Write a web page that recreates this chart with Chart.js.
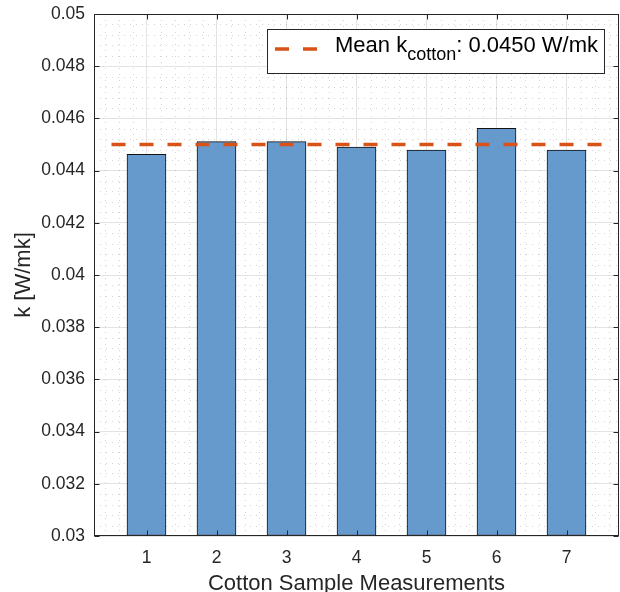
<!DOCTYPE html>
<html>
<head>
<meta charset="utf-8">
<script src="https://cdn.jsdelivr.net/npm/chart.js@4.4.0/dist/chart.umd.min.js"></script>
<style>
html, body { margin: 0; padding: 0; background: #fff; }
canvas { display: block; }
</style>
</head>
<body>
<canvas id="kChart" width="620" height="592"></canvas>
<script>
// data
const samples = [1, 2, 3, 4, 5, 6, 7]
const kValues = [0.04462, 0.04511, 0.04511, 0.0449, 0.04479, 0.04562, 0.04479]
const meanK = 0.045
const meanSpan = [0.5, 7.5]
const xTicks = [1, 2, 3, 4, 5, 6, 7]
const yTicks = [0.03, 0.032, 0.034, 0.036, 0.038, 0.04, 0.042, 0.044, 0.046, 0.048, 0.05]
const xLimits = [0.25, 7.75]
const yLimits = [0.03, 0.05]

const FONT = "'Liberation Sans', Arial, Helvetica, sans-serif"
const INK = '#262626'

// MATLAB style minor grid (dotted), under the bars
const minorGrid = {
	id: 'minorGrid',
	beforeDatasetsDraw(chart) {
		const { ctx, chartArea: a, scales: { x, y } } = chart
		ctx.save()
		ctx.strokeStyle = 'rgba(0,0,0,0.17)'
		ctx.lineWidth = 1
		ctx.setLineDash([1, 5])
		for (let i = Math.ceil(xLimits[0] / 0.2); i <= Math.floor(xLimits[1] / 0.2); i++) {
			if (i % 5 === 0) continue
			const px = Math.round(x.getPixelForValue(i * 0.2)) + 0.5
			ctx.beginPath()
			ctx.moveTo(px, a.top)
			ctx.lineTo(px, a.bottom)
			ctx.stroke()
		}
		for (let i = Math.round(yLimits[0] / 0.0004); i <= Math.round(yLimits[1] / 0.0004); i++) {
			if (i % 5 === 0) continue
			const py = Math.round(y.getPixelForValue(i * 0.0004)) + 0.5
			ctx.beginPath()
			ctx.moveTo(a.left, py)
			ctx.lineTo(a.right, py)
			ctx.stroke()
		}
		ctx.restore()
	},
}

// box round the axes with inward ticks, drawn over the bars
const axesBox = {
	id: 'axesBox',
	afterDatasetsDraw(chart) {
		const { ctx, chartArea: a, scales: { x, y } } = chart
		const L = Math.round(a.left) + 0.5
		const R = Math.round(a.right) - 0.5
		const T = Math.round(a.top) + 0.5
		const B = Math.round(a.bottom) - 0.5
		ctx.save()
		ctx.strokeStyle = INK
		ctx.lineWidth = 1
		ctx.strokeRect(L, T, R - L, B - T)
		ctx.beginPath()
		xTicks.forEach(v => {
			const px = Math.round(x.getPixelForValue(v)) + 0.5
			ctx.moveTo(px, B); ctx.lineTo(px, B - 5)
			ctx.moveTo(px, T); ctx.lineTo(px, T + 5)
		})
		yTicks.forEach(v => {
			const py = Math.round(y.getPixelForValue(v)) + 0.5
			ctx.moveTo(L, py); ctx.lineTo(L + 5, py)
			ctx.moveTo(R, py); ctx.lineTo(R - 5, py)
		})
		ctx.stroke()
		ctx.restore()
	},
}

// legend with subscript text
const meanLegend = {
	id: 'meanLegend',
	afterDraw(chart) {
		const { ctx } = chart
		const bx = 267.5, by = 29.5, bw = 337, bh = 44
		ctx.save()
		ctx.fillStyle = '#fff'
		ctx.fillRect(bx, by, bw, bh)
		ctx.strokeStyle = INK
		ctx.lineWidth = 1
		ctx.strokeRect(bx, by, bw, bh)
		ctx.strokeStyle = '#D95319'
		ctx.lineWidth = 3.5
		ctx.setLineDash([14, 14])
		ctx.beginPath()
		ctx.moveTo(275, 49)
		ctx.lineTo(317, 49)
		ctx.stroke()
		ctx.setLineDash([])
		ctx.fillStyle = '#000'
		ctx.textBaseline = 'alphabetic'
		ctx.font = '22px ' + FONT
		let tx = 335
		ctx.fillText('Mean k', tx, 52)
		tx += ctx.measureText('Mean k').width
		ctx.font = '18px ' + FONT
		ctx.fillText('cotton', tx, 60)
		tx += ctx.measureText('cotton').width
		ctx.font = '22px ' + FONT
		ctx.fillText(': ' + meanK.toFixed(4) + ' W/mk', tx, 52)
		ctx.restore()
	},
}

const ctx = document.getElementById('kChart').getContext('2d')
const kChart = new Chart(ctx, {
	type: 'bar',
	data: {
		datasets: [
			{
				type: 'line',
				label: 'Mean k cotton',
				data: meanSpan.map(v => ({ x: v, y: meanK })),
				borderColor: '#D95319',
				borderWidth: 3.5,
				borderDash: [14, 14],
				pointRadius: 0,
				fill: false,
				order: 0,
			},
			{
				label: 'k',
				data: samples.map((s, i) => ({ x: s, y: kValues[i] })),
				backgroundColor: '#6699CC',
				borderColor: '#111',
				borderWidth: 1,
				borderSkipped: false,
				barThickness: 39,
				base: yLimits[0],
				order: 1,
			},
		],
	},
	options: {
		responsive: false,
		animation: false,
		layout: { padding: { top: 14, right: 1, left: 0, bottom: 0 } },
		plugins: {
			legend: { display: false },
			tooltip: { enabled: false },
		},
		scales: {
			x: {
				type: 'linear',
				min: xLimits[0],
				max: xLimits[1],
				offset: false,
				afterBuildTicks: s => { s.ticks = xTicks.map(v => ({ value: v })) },
				afterFit: s => {
					s.height = 56
					s.paddingLeft = 0
					s.paddingRight = 0
				},
				grid: { offset: false, color: '#e3e3e3', drawTicks: false },
				border: { display: false },
				ticks: {
					padding: 12,
					color: INK,
					font: { family: FONT, size: 17.5 },
					maxRotation: 0,
					callback: v => String(v),
				},
				title: {
					display: true,
					text: 'Cotton Sample Measurements',
					color: INK,
					font: { family: FONT, size: 22 },
					padding: { top: 0, bottom: -5 },
				},
			},
			y: {
				min: yLimits[0],
				max: yLimits[1],
				afterBuildTicks: s => { s.ticks = yTicks.map(v => ({ value: v })) },
				afterFit: s => {
					s.width = 94
					s.paddingTop = 0
					s.paddingBottom = 0
				},
				grid: { color: '#e3e3e3', drawTicks: false },
				border: { display: false },
				ticks: {
					padding: 9,
					color: INK,
					font: { family: FONT, size: 17.5 },
					callback: v => String(+v.toFixed(4)),
				},
				title: {
					display: true,
					text: 'k [W/mk]',
					color: INK,
					font: { family: FONT, size: 22 },
					padding: { top: 11, bottom: 0 },
				},
			},
		},
	},
	plugins: [minorGrid, axesBox, meanLegend],
})
</script>
</body>
</html>
